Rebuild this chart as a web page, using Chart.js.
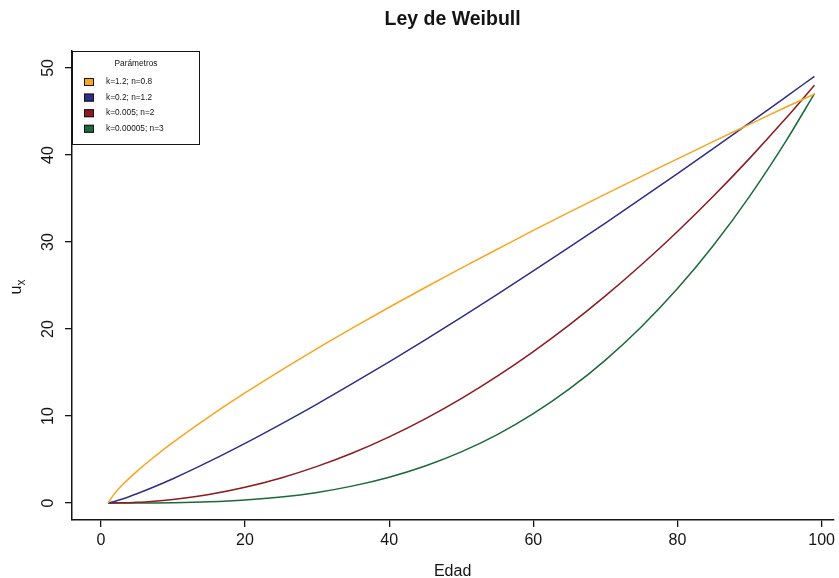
<!DOCTYPE html>
<html>
<head>
<meta charset="utf-8">
<script src="https://cdn.jsdelivr.net/npm/chart.js@4/dist/chart.umd.min.js"></script>
<style>
  html, body { margin: 0; padding: 0; background: #fff; }
  #wrap { width: 839px; height: 578px; }
</style>
</head>
<body>
<div id="wrap"><canvas id="weibull" width="839" height="578"></canvas></div>
<script>
// ---------- datos ----------
var edad = [1, 2, 3, 4, 5, 7, 10, 15, 20, 25, 30, 35, 40, 45, 50, 55, 60, 65, 70, 75, 80, 85, 90, 95, 99];
var serieA = [0, 1.2, 2.09, 2.89, 3.64, 5.03, 6.96, 9.91, 12.65, 15.25, 17.75, 20.15, 22.5, 24.77, 26.99, 29.17, 31.33, 33.43, 35.5, 37.55, 39.55, 41.56, 43.52, 45.48, 47.0];
var serieB = [0, 0.2, 0.46, 0.75, 1.06, 1.72, 2.79, 4.75, 6.85, 9.07, 11.37, 13.77, 16.22, 18.76, 21.34, 23.98, 26.67, 29.4, 32.18, 35.0, 37.85, 40.75, 43.68, 46.65, 49.04];
var serieC = [0, 0.005, 0.02, 0.045, 0.08, 0.18, 0.41, 0.98, 1.81, 2.88, 4.21, 5.78, 7.61, 9.68, 12.0, 14.58, 17.41, 20.48, 23.81, 27.38, 31.21, 35.28, 39.61, 44.18, 48.02];
var serieD = [0, 0, 0, 0.001, 0.003, 0.011, 0.036, 0.137, 0.343, 0.691, 1.22, 1.97, 2.97, 4.26, 5.88, 7.87, 10.27, 13.11, 16.43, 20.26, 24.65, 29.63, 35.25, 41.53, 47.06];
var etiquetas = ['k=1.2; n=0.8', 'k=0.2; n=1.2', 'k=0.005; n=2', 'k=0.00005; n=3'];
var colores = ['#F9A51E', '#2E2E86', '#8C1A1E', '#1B6A38'];
var xTicks = [0, 20, 40, 60, 80, 100];
var yTicks = [0, 10, 20, 30, 40, 50];

var FONT = '"Liberation Sans", Arial, sans-serif';
var INK = '#141414';

function puntos(ys) {
  return edad.map(function (x, i) { return { x: x, y: ys[i] }; });
}

var series = [serieA, serieB, serieC, serieD];
var datasets = series.map(function (ys, i) {
  return {
    label: etiquetas[i],
    data: puntos(ys),
    borderColor: colores[i],
    backgroundColor: colores[i],
    borderWidth: 1.5,
    pointRadius: 0,
    cubicInterpolationMode: 'monotone',
    fill: false
  };
});

// ---------- textos, etiquetas del eje y y leyenda ----------
var decoracion = {
  id: 'decoracion',
  afterDatasetsDraw: function (chart) {
    var ctx = chart.ctx;
    var area = chart.chartArea;
    var ys = chart.scales.y;
    ctx.save();
    ctx.fillStyle = INK;

    // título
    ctx.font = 'bold 19.5px ' + FONT;
    ctx.textAlign = 'center';
    ctx.textBaseline = 'middle';
    ctx.fillText('Ley de Weibull', (area.left + area.right) / 2, 20);

    // eje x
    ctx.font = '16px ' + FONT;
    ctx.fillText('Edad', (area.left + area.right) / 2, 572);

    // etiquetas del eje y (giradas)
    yTicks.forEach(function (v) {
      var py = ys.getPixelForValue(v);
      ctx.save();
      ctx.translate(49, py);
      ctx.rotate(-Math.PI / 2);
      ctx.textAlign = 'center';
      ctx.textBaseline = 'middle';
      ctx.font = '16px ' + FONT;
      ctx.fillText(String(v), 0, 0);
      ctx.restore();
    });

    // título eje y: u con subíndice x
    ctx.save();
    ctx.translate(17, (area.top + area.bottom) / 2);
    ctx.rotate(-Math.PI / 2);
    ctx.textBaseline = 'middle';
    ctx.textAlign = 'right';
    ctx.font = '16px ' + FONT;
    ctx.fillText('u', 0, 0);
    ctx.textAlign = 'left';
    ctx.font = '12px ' + FONT;
    ctx.fillText('x', 0, 5);
    ctx.restore();

    // leyenda
    var lx = area.left, ly = area.top, lw = 128, lh = 94;
    ctx.fillStyle = '#fff';
    ctx.fillRect(lx, ly, lw, lh);
    ctx.strokeStyle = INK;
    ctx.lineWidth = 1;
    ctx.strokeRect(lx + 0.5, ly + 0.5, lw - 1, lh - 1);
    ctx.fillStyle = INK;
    ctx.font = '8.3px ' + FONT;
    ctx.textAlign = 'center';
    ctx.textBaseline = 'middle';
    ctx.fillText('Parámetros', lx + 64, ly + 13);
    ctx.textAlign = 'left';
    chart.data.datasets.forEach(function (ds, i) {
      var ry = ly + 31 + i * 15.6;
      ctx.fillStyle = ds.borderColor;
      ctx.fillRect(lx + 12, ry - 4, 10, 8);
      ctx.strokeStyle = INK;
      ctx.strokeRect(lx + 12.5, ry - 3.5, 9, 7);
      ctx.fillStyle = INK;
      ctx.fillText(ds.label, lx + 34, ry);
    });
    ctx.restore();
  }
};

new Chart(document.getElementById('weibull'), {
  type: 'line',
  data: { datasets: datasets },
  options: {
    responsive: false,
    animation: false,
    events: [],
    layout: { padding: { top: 51, left: 0, right: 0, bottom: 0 } },
    plugins: { legend: { display: false }, title: { display: false }, tooltip: { enabled: false } },
    scales: {
      x: {
        type: 'linear',
        min: -4,
        max: 101.6,
        afterBuildTicks: function (s) { s.ticks = xTicks.map(function (v) { return { value: v }; }); },
        afterFit: function (s) { s.height = 58; },
        grid: { drawOnChartArea: false, drawTicks: true, tickLength: 7, color: INK, lineWidth: 1.3 },
        border: { display: true, color: INK, width: 1.5 },
        ticks: { color: INK, font: { family: FONT, size: 16 }, padding: 4, maxRotation: 0, autoSkip: false }
      },
      y: {
        type: 'linear',
        min: -1.95,
        max: 51.95,
        afterBuildTicks: function (s) { s.ticks = yTicks.map(function (v) { return { value: v }; }); },
        afterFit: function (s) { s.width = 72; },
        grid: { drawOnChartArea: false, drawTicks: true, tickLength: 7, color: INK, lineWidth: 1.3 },
        border: { display: true, color: INK, width: 1.5 },
        ticks: { display: false }
      }
    }
  },
  plugins: [decoracion]
});
</script>
</body>
</html>
